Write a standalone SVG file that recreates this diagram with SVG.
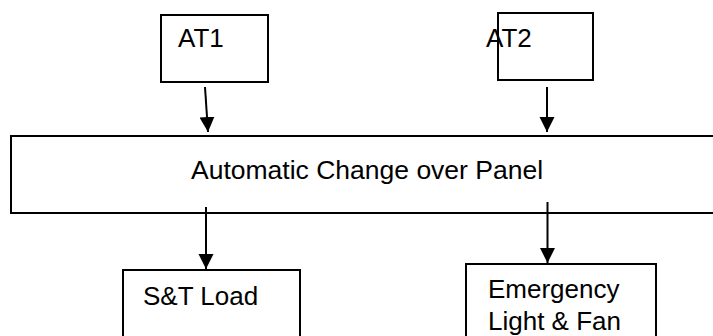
<svg xmlns="http://www.w3.org/2000/svg" width="713" height="336" viewBox="0 0 713 336">
<style>
.box{fill:#fff;stroke:#000;stroke-width:2}
.t{font-family:"Liberation Sans",Arial,sans-serif;font-size:26px;fill:#000}
.c{stroke:#000;stroke-width:2;fill:none}
</style>
<defs>
<marker id="ah" markerUnits="userSpaceOnUse" markerWidth="16" markerHeight="16" refX="15" refY="7.5" orient="auto">
<path d="M0,0 L15,7.5 L0,15 Z" fill="#000"/>
</marker>
</defs>
<rect width="713" height="336" fill="#fff"/>
<g id="at1">
<rect class="box" x="161" y="15" width="107" height="67"/>
<text class="t" x="178" y="47">AT1</text>
</g>
<g id="at2">
<rect class="box" x="498" y="13" width="95" height="67"/>
<text class="t" x="486" y="47">AT2</text>
</g>
<g id="panel">
<rect class="box" x="11" y="136" width="720" height="77"/>
<text class="t" x="191" y="179" style="font-size:26.5px">Automatic Change over Panel</text>
</g>
<g id="st">
<rect class="box" x="123" y="270" width="177" height="80"/>
<text class="t" x="143" y="305">S&amp;T Load</text>
</g>
<g id="emergency">
<rect class="box" x="466" y="264" width="190" height="90"/>
<text class="t" x="488" y="298">Emergency</text>
<text class="t" x="488" y="330">Light &amp; Fan</text>
</g>
<g id="connectors">
<line class="c" x1="205" y1="87" x2="208" y2="132" marker-end="url(#ah)"/>
<line class="c" x1="547" y1="87" x2="547" y2="132" marker-end="url(#ah)"/>
<line class="c" x1="206" y1="207" x2="206" y2="269" marker-end="url(#ah)"/>
<line class="c" x1="547.5" y1="202" x2="547.5" y2="263" marker-end="url(#ah)"/>
</g>
</svg>
